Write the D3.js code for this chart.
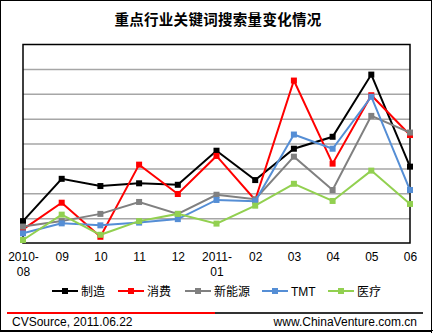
<!DOCTYPE html>
<html><head><meta charset="utf-8">
<script src="https://cdn.jsdelivr.net/npm/d3@7"></script>
<style>body{margin:0;background:#fff}svg{display:block}</style>
</head><body><svg id="c" width="433" height="333"></svg>
<script>
const categories = ["2010-\n08","09","10","11","12","2011-\n01","02","03","04","05","06"];
const seriesNames = ["制造","消费","新能源","TMT","医疗"];
const seriesColors = ["#000000","#ff0000","#808080","#558ed5","#92d050"];
const manufacturing = [0.88,2.58,2.29,2.40,2.34,3.71,2.53,3.79,4.27,6.77,3.07];
const consumer      = [0.55,1.62,0.25,3.15,1.97,3.50,1.73,6.53,3.19,5.94,4.34];
const newEnergy     = [0.66,0.88,1.17,1.65,1.17,1.94,1.76,3.47,2.13,5.11,4.44];
const tmt           = [0.39,0.79,0.71,0.82,0.96,1.73,1.68,4.36,3.79,5.88,2.13];
const medical       = [0.12,1.14,0.33,0.88,1.17,0.78,1.50,2.38,1.69,2.91,1.57];
const gridTicks = [1,2,3,4,5,6,7];
const title = "重点行业关键词搜索量变化情况";
const sourceText = "CVSource, 2011.06.22";
const siteText = "www.ChinaVenture.com.cn";

const data = [manufacturing, consumer, newEnergy, tmt, medical];
const svg = d3.select("#c");
const L=23, R=410, T=44, B=243;
const x = d3.scalePoint().domain(d3.range(categories.length)).range([L,R]);
const y = d3.scaleLinear().domain([0,8]).range([B,T]);
const latin = "Arial, 'Liberation Sans', sans-serif";
const cjk = "'Noto Sans CJK SC', sans-serif";

// outer frame
svg.append("rect").attr("x",0.5).attr("y",0.5).attr("width",431).attr("height",331)
  .attr("fill","none").attr("stroke","#000").attr("stroke-width",1);
svg.append("line").attr("x1",431.5).attr("x2",431.5).attr("y1",0).attr("y2",333).attr("stroke","#000").attr("stroke-width",1);
svg.append("line").attr("x1",0).attr("x2",433).attr("y1",330.5).attr("y2",330.5).attr("stroke","#000").attr("stroke-width",1);

// title
svg.append("text").attr("x",218).attr("y",25).attr("text-anchor","middle")
  .attr("font-family",cjk).attr("font-weight","bold").attr("font-size",14.5)
  .attr("letter-spacing",0.3).text(title);

// gridlines
const yAxis = d3.axisLeft(y).tickValues(gridTicks).tickSize(-(R-L)).tickFormat("");
const gy = svg.append("g").attr("transform",`translate(${L},0)`).call(yAxis);
gy.select(".domain").remove();
gy.selectAll(".tick line").attr("stroke","#a6a6a6").attr("stroke-width",1.5);

// plot frame
svg.append("rect").attr("x",L).attr("y",T+0.5).attr("width",R-L).attr("height",B-T-0.5)
  .attr("fill","none").attr("stroke","#000").attr("stroke-width",1.5);

// x labels
const xAxis = d3.axisBottom(x).tickSize(0).tickFormat(i=>categories[i]);
const gx = svg.append("g").attr("transform",`translate(0,${B})`).call(xAxis);
gx.select(".domain").remove();
gx.selectAll(".tick text").each(function(i){
  const t = d3.select(this); const parts = categories[i].split("\n");
  t.text(null).attr("font-family",latin).attr("font-size",12).attr("fill","#000").attr("y",0).attr("dy",null);
  parts.forEach((p,k)=>t.append("tspan").attr("x",0).attr("y",18+k*15).text(p));
});

// lines
const line = d3.line().x((d,i)=>x(i)).y(d=>y(d));
data.forEach((s,k)=>{
  const g = svg.append("g");
  g.append("path").datum(s).attr("d",line).attr("fill","none")
    .attr("stroke",seriesColors[k]).attr("stroke-width",2);
  g.selectAll("rect").data(s).join("rect")
    .attr("x",(d,i)=>x(i)-3).attr("y",d=>y(d)-3).attr("width",6).attr("height",6)
    .attr("fill",seriesColors[k]);
});

// legend
const legX = [52,118,185,262,328];
const ly = 291;
seriesNames.forEach((n,k)=>{
  const g = svg.append("g").attr("transform",`translate(${legX[k]},${ly})`);
  g.append("line").attr("x1",0).attr("x2",26).attr("y1",0).attr("y2",0)
    .attr("stroke",seriesColors[k]).attr("stroke-width",2);
  g.append("rect").attr("x",10).attr("y",-3).attr("width",6).attr("height",6).attr("fill",seriesColors[k]);
  g.append("text").attr("x",29).attr("y",4.5)
    .attr("font-family", n==="TMT"?latin:cjk).attr("font-size",12).text(n);
});

// footer
svg.append("line").attr("x1",7).attr("x2",215).attr("y1",313).attr("y2",313).attr("stroke","#ff0000").attr("stroke-width",2);
svg.append("line").attr("x1",215).attr("x2",423).attr("y1",313).attr("y2",313).attr("stroke","#333").attr("stroke-width",2);
svg.append("text").attr("x",12).attr("y",326).attr("font-family",latin).attr("font-size",12).text(sourceText);
svg.append("text").attr("x",417).attr("y",326).attr("text-anchor","end").attr("font-family",latin).attr("font-size",12).text(siteText);
</script></body></html>
